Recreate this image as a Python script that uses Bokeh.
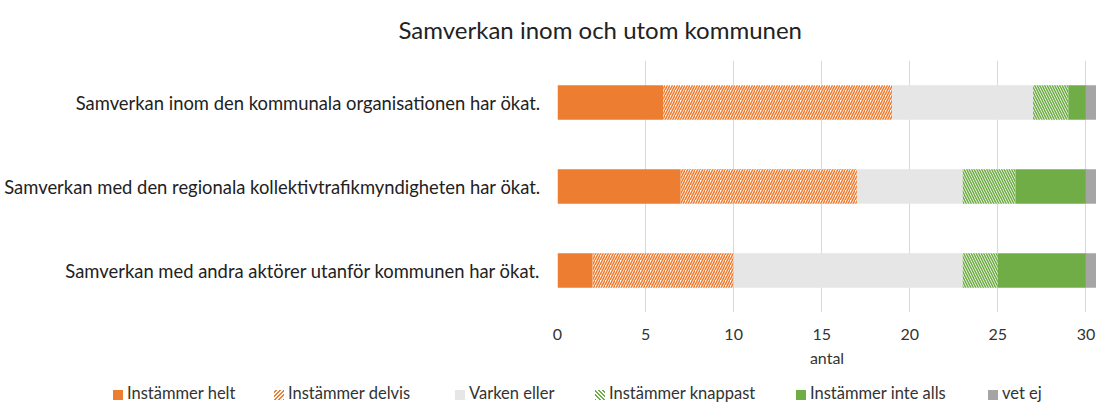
from bokeh.plotting import figure
from bokeh.layouts import column
from bokeh.models import Range1d, FactorRange, Div
from bokeh.embed import file_html
from bokeh.resources import INLINE

# ---- data ----
questions = [
    "Samverkan inom den kommunala organisationen har ökat.",
    "Samverkan med den regionala kollektivtrafikmyndigheten har ökat.",
    "Samverkan med andra aktörer utanför kommunen har ökat.",
]
series_names = ["Instämmer helt", "Instämmer delvis", "Varken eller",
                "Instämmer knappast", "Instämmer inte alls", "vet ej"]
helt = [6, 7, 2]
delvis = [13, 10, 8]
varken = [8, 6, 13]
knappast = [2, 3, 2]
inte_alls = [1, 4, 5]
vet_ej = [1, 1, 1]
x_ticks = [0, 5, 10, 15, 20, 25, 30]

series_values = [helt, delvis, varken, knappast, inte_alls, vet_ej]

# ---- styles ----
ORANGE = "#ED7D31"
GREEN = "#70AD47"
styles = [
    dict(fill_color=ORANGE),
    dict(fill_color="white", hatch_color=ORANGE, hatch_pattern="/", hatch_scale=5, hatch_weight=1.6),
    dict(fill_color="#E7E6E6"),
    dict(fill_color="white", hatch_color=GREEN, hatch_pattern="\\", hatch_scale=5, hatch_weight=1.6),
    dict(fill_color=GREEN),
    dict(fill_color="#A5A5A5"),
]
# css swatches for the legend strip
swatch_css = [
    f"background:{ORANGE};",
    f"background:repeating-linear-gradient(-45deg,{ORANGE} 0 1.4px,#fff 1.4px 3px);",
    "background:#E7E6E6;",
    f"background:repeating-linear-gradient(45deg,{GREEN} 0 1.4px,#fff 1.4px 3px);",
    f"background:{GREEN};",
    "background:#A5A5A5;",
]
legend_x = [113, 274, 455, 595, 796, 988]

FONT = "Lato"

p = figure(width=1096, height=375, output_backend="svg", toolbar_location=None,
           y_range=FactorRange(*reversed(questions)), x_range=Range1d(0, 30.6),
           min_border_left=557, min_border_right=0, min_border_top=55, min_border_bottom=63)
p.outline_line_color = None

p.title.text = "Samverkan inom och utom kommunen"
p.title.align = "left"
p.title.vertical_align = "top"
p.title.offset = -159
p.title.standoff = 29
p.title.text_font = FONT
p.title.text_font_size = "24px"
p.title.text_font_style = "normal"
p.title.text_color = "#222222"

lefts = [0, 0, 0]
for name, vals, st in zip(series_names, series_values, styles):
    rights = [l + v for l, v in zip(lefts, vals)]
    p.hbar(y=questions, left=lefts, right=rights, height=0.41, line_color=None, **st)
    lefts = rights

# axes
p.xaxis.ticker = x_ticks
p.xaxis.axis_line_color = None
p.xaxis.major_tick_line_color = None
p.xaxis.minor_tick_line_color = None
p.xaxis.major_label_standoff = 10
p.xaxis.major_label_text_font = FONT
p.xaxis.major_label_text_font_size = "16px"
p.xaxis.major_label_text_color = "#333333"
p.xaxis.axis_label = "antal"
p.xaxis.axis_label_text_font = FONT
p.xaxis.axis_label_text_font_size = "16px"
p.xaxis.axis_label_text_font_style = "normal"
p.xaxis.axis_label_text_color = "#333333"
p.xaxis.axis_label_standoff = 5

p.yaxis.axis_line_color = None
p.yaxis.major_tick_line_color = None
p.yaxis.minor_tick_line_color = None
p.yaxis.major_tick_out = 0
p.yaxis.major_label_standoff = 17
p.yaxis.major_label_text_font = FONT
p.yaxis.major_label_text_font_size = "18.4px"
p.yaxis.major_label_text_color = "#222222"

p.xgrid.grid_line_color = "#D9D9D9"
p.ygrid.grid_line_color = None

# ---- legend strip ----
parts = []
for name, css, x in zip(series_names, swatch_css, legend_x):
    parts.append(
        f'<span style="position:absolute;left:{x}px;top:9px;line-height:18px;white-space:nowrap;">'
        f'<span style="display:inline-block;width:10px;height:10px;margin-right:4px;vertical-align:-1px;{css}"></span>'
        f'{name}</span>'
    )
html = (f'<div style="position:relative;width:1096px;height:27px;margin:0;padding:0;'
        f'font-family:{FONT};font-size:16.5px;color:#333333;">' + "".join(parts) + '</div>')
legend_div = Div(text=html, width=1096, height=27, margin=0)

layout = column(p, legend_div, spacing=0)
open("out.html", "w").write(file_html(layout, INLINE))
